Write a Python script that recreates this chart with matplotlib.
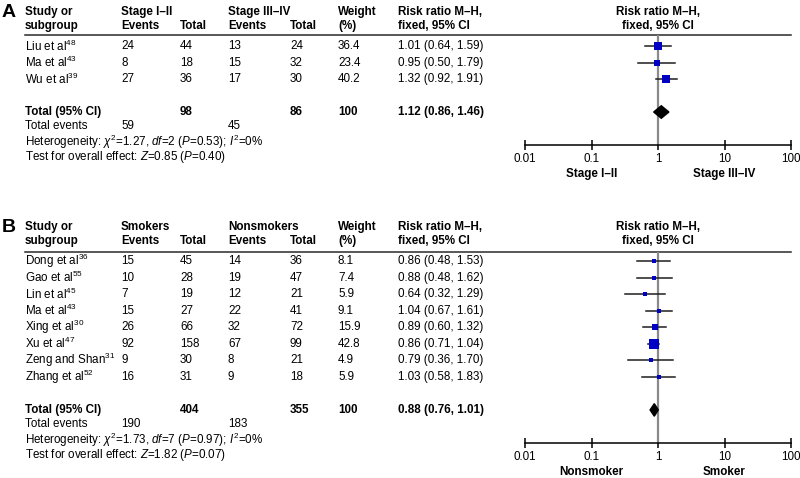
import matplotlib
matplotlib.use('Agg')
import numpy as np
import matplotlib.pyplot as plt
from matplotlib.patches import Polygon
from matplotlib.ticker import NullLocator
from matplotlib.transforms import blended_transform_factory

# panel A: stage I-II vs stage III-IV
names_a = ['Liu et al', 'Ma et al', 'Wu et al']
refs_a = [48, 43, 39]
ev1_a = [24, 8, 27]
tot1_a = [44, 18, 36]
ev2_a = [13, 15, 17]
tot2_a = [24, 32, 30]
weight_a = [36.4, 23.4, 40.2]
rr_a = [1.01, 0.95, 1.32]
lo_a = [0.64, 0.50, 0.92]
hi_a = [1.59, 1.79, 1.91]
totals_a = [98, 86, 100]
events_a = [59, 45]
pooled_a = [1.12, 0.86, 1.46]
het_a = ['1.27', 2, '0.53', 0]
ztest_a = ['0.85', '0.40']

# panel B: smokers vs nonsmokers
names_b = ['Dong et al', 'Gao et al', 'Lin et al', 'Ma et al', 'Xing et al',
           'Xu et al', 'Zeng and Shan', 'Zhang et al']
refs_b = [36, 55, 45, 43, 30, 47, 31, 52]
ev1_b = [15, 10, 7, 15, 26, 92, 9, 16]
tot1_b = [45, 28, 19, 27, 66, 158, 30, 31]
ev2_b = [14, 19, 12, 22, 32, 67, 8, 9]
tot2_b = [36, 47, 21, 41, 72, 99, 21, 18]
weight_b = [8.1, 7.4, 5.9, 9.1, 15.9, 42.8, 4.9, 5.9]
rr_b = [0.86, 0.88, 0.64, 1.04, 0.89, 0.86, 0.79, 1.03]
lo_b = [0.48, 0.48, 0.32, 0.67, 0.60, 0.71, 0.36, 0.58]
hi_b = [1.53, 1.62, 1.29, 1.61, 1.32, 1.04, 1.70, 1.83]
totals_b = [404, 355, 100]
events_b = [190, 183]
pooled_b = [0.88, 0.76, 1.01]
het_b = ['1.73', 7, '0.97', 0]
ztest_b = ['1.82', '0.07']

ticks = [0.01, 0.1, 1, 10, 100]
tick_labels = ['0.01', '0.1', '1', '10', '100']

plt.rcParams['font.family'] = ['Liberation Sans', 'DejaVu Sans']
plt.rcParams['font.size'] = 8.4
plt.rcParams['mathtext.fontset'] = 'custom'
plt.rcParams['mathtext.rm'] = 'Liberation Sans'
plt.rcParams['mathtext.it'] = 'Liberation Sans:italic'
plt.rcParams['mathtext.bf'] = 'Liberation Sans:bold'

W, H = 800, 478
fig = plt.figure(figsize=(8, 4.78), dpi=100)

col_x = [25, 121, 180, 228, 290, 338, 398]
BLUE = '#0000c4'


def panel(top_px, bottom_px, y_top, letter, grp1, grp2, dir_lo, dir_hi,
          names, refs, ev1, tot1, ev2, tot2, weight, rr, lo, hi,
          totals, events, pooled, het, ztest):
    ax = fig.add_axes([525 / W, 1 - bottom_px / H, 266 / W, (bottom_px - top_px) / H])
    n = len(names)
    total_row = n + 1
    y_axis = n + 3
    ax.set_xscale('log')
    ax.set_xlim(0.01, 100)
    ax.set_ylim(y_axis, y_top)
    for s in ['top', 'left', 'right']:
        ax.spines[s].set_visible(False)
    ax.spines['bottom'].set_linewidth(1.1)
    ax.set_xticks(ticks)
    ax.set_xticklabels(tick_labels)
    ax.xaxis.set_minor_locator(NullLocator())
    ax.set_yticks([])
    ax.tick_params(axis='x', direction='inout', length=7, width=1.1, pad=2, labelsize=8.4)
    ax.patch.set_visible(False)

    tr = blended_transform_factory(fig.transFigure, ax.transData)

    def put(xpx, y, s, bold=False, **kw):
        ax.text(xpx / W, y, s, transform=tr, va='center', ha='left',
                fontweight='bold' if bold else 'normal', clip_on=False, **kw)

    # panel letter and headers
    put(2, -2.05, letter, bold=True, fontsize=14)
    h1, h2 = -2.05, -1.2
    put(col_x[0], h1, 'Study or', bold=True)
    put(col_x[0], h2, 'subgroup', bold=True)
    put(col_x[1], h1, grp1, bold=True)
    put(col_x[1], h2, 'Events', bold=True)
    put(col_x[2], h2, 'Total', bold=True)
    put(col_x[3], h1, grp2, bold=True)
    put(col_x[3], h2, 'Events', bold=True)
    put(col_x[4], h2, 'Total', bold=True)
    put(col_x[5], h1, 'Weight', bold=True)
    put(col_x[5], h2, '(%)', bold=True)
    put(col_x[6], h1, 'Risk ratio M–H,', bold=True)
    put(col_x[6], h2, 'fixed, 95% CI', bold=True)
    ax.text(1, h1, 'Risk ratio M–H,', ha='center', va='center', fontweight='bold')
    ax.text(1, h2, 'fixed, 95% CI', ha='center', va='center', fontweight='bold')
    ax.plot([col_x[0] / W, 791 / W], [y_top, y_top], transform=tr,
            color='#2a2a2a', lw=1.1, clip_on=False)

    # study rows
    for i in range(n):
        put(col_x[0], i, f'{names[i]}$^{{{refs[i]}}}$')
        put(col_x[1], i, str(ev1[i]))
        put(col_x[2], i, str(tot1[i]))
        put(col_x[3], i, str(ev2[i]))
        put(col_x[4], i, str(tot2[i]))
        put(col_x[5], i, f'{weight[i]:.1f}')
        put(col_x[6], i, f'{rr[i]:.2f} ({lo[i]:.2f}, {hi[i]:.2f})')
        ax.plot([lo[i], hi[i]], [i, i], color='#1e1e1e', lw=1.1, zorder=3)
        ax.plot(rr[i], i, marker='s', ms=1.4 * np.sqrt(weight[i]) * 0.72,
                color=BLUE, mew=0, zorder=4)

    # pooled row
    put(col_x[0], total_row, 'Total (95% CI)', bold=True)
    put(col_x[2], total_row, str(totals[0]), bold=True)
    put(col_x[4], total_row, str(totals[1]), bold=True)
    put(col_x[5], total_row, str(totals[2]), bold=True)
    put(col_x[6], total_row, f'{pooled[0]:.2f} ({pooled[1]:.2f}, {pooled[2]:.2f})', bold=True)
    dh = 0.38
    ax.add_patch(Polygon([(pooled[1], total_row), (pooled[0], total_row - dh),
                          (pooled[2], total_row), (pooled[0], total_row + dh)],
                         closed=True, color='black', zorder=4))

    put(col_x[0], total_row + 0.85, 'Total events')
    put(col_x[1], total_row + 0.85, str(events[0]))
    put(col_x[3], total_row + 0.85, str(events[1]))
    put(col_x[0], total_row + 1.8,
        f'Heterogeneity: $\\chi^2$={het[0]}, $df$={het[1]} ($P$={het[2]}); $I^2$={het[3]}%')
    put(col_x[0], total_row + 2.72,
        f'Test for overall effect: $Z$={ztest[0]} ($P$={ztest[1]})')

    ax.axvline(1, color='#8a8a8a', lw=1.6, zorder=2)

    for x, s in [(0.1, dir_lo), (10, dir_hi)]:
        ax.annotate(s, xy=(x, 0), xycoords=('data', 'axes fraction'),
                    xytext=(0, -29 * 0.72), textcoords='offset points',
                    ha='center', va='center', fontweight='bold')
    return ax


panel(35, 145, -0.67, 'A', 'Stage I–II', 'Stage III–IV', 'Stage I–II', 'Stage III–IV',
      names_a, refs_a, ev1_a, tot1_a, ev2_a, tot2_a, weight_a, rr_a, lo_a, hi_a,
      totals_a, events_a, pooled_a, het_a, ztest_a)

panel(252, 443, -0.55, 'B', 'Smokers', 'Nonsmokers', 'Nonsmoker', 'Smoker',
      names_b, refs_b, ev1_b, tot1_b, ev2_b, tot2_b, weight_b, rr_b, lo_b, hi_b,
      totals_b, events_b, pooled_b, het_b, ztest_b)

fig.savefig('out.png', dpi=100)
